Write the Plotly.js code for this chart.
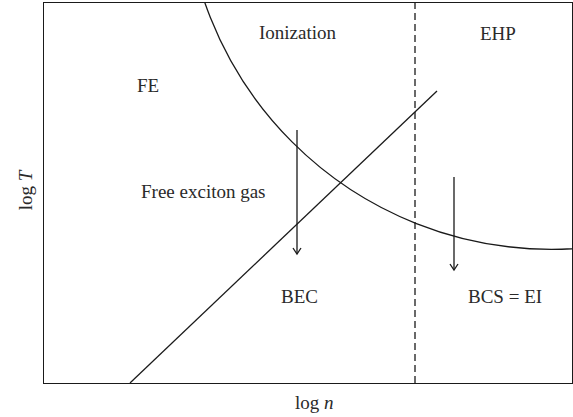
<!DOCTYPE html>
<html>
<head>
<meta charset="utf-8">
<script src="https://cdn.plot.ly/plotly-3.0.1.min.js"></script>
<style>html,body{margin:0;padding:0;background:#fff;}#chart{width:573px;height:417px;}</style>
</head>
<body>
<div id="chart"></div>
<script>
// Region labels and their positions (diagram units)
const regionLabels = ["Ionization", "EHP", "FE", "Free exciton gas", "BEC", "BCS = EI"];
const labelX = [254, 454, 104, 159, 255, 461];
const labelY = [351, 350, 298, 192, 87, 87];

// BEC transition line (log T vs log n)
const becLineX = [86, 393];
const becLineY = [0, 292];

// Mott density (dashed vertical boundary)
const mottX = 371;

// Ionization boundary (circular arc): centre and radius
const arcCentreX = 507.4;
const arcCentreY = 500.5;
const arcRadius = 366.8;

// Cooling arrows
const arrowX = [253, 410];
const arrowTop = [253, 206];
const arrowTip = [129, 113];

// Axis ranges and titles
const xRange = [0, 528];
const yRange = [0, 380];
const xTitle = "log <i>n</i>";
const yTitle = "log <i>T</i>";

const ink = "#1a1a1a";
const textColor = "#2a2a2a";
const font = "Liberation Serif, Times New Roman, serif";
const fontSize = 19;

// arrows: shafts and open V heads
const ax = [], ay = [];
const headW = 4, headH = 6;
for (let i = 0; i < arrowX.length; i++) {
  ax.push(arrowX[i], arrowX[i], null);
  ay.push(arrowTop[i], arrowTip[i], null);
  ax.push(arrowX[i] - headW, arrowX[i], arrowX[i] + headW, null);
  ay.push(arrowTip[i] + headH, arrowTip[i], arrowTip[i] + headH, null);
}

const traces = [
  {x: becLineX, y: becLineY, mode: "lines", line: {color: ink, width: 1.3}, hoverinfo: "skip"},
  {x: [mottX, mottX], y: yRange, mode: "lines", line: {color: ink, width: 1.3, dash: "7px,4px"}, hoverinfo: "skip"},
  {x: ax, y: ay, mode: "lines", line: {color: ink, width: 1.3}, hoverinfo: "skip", connectgaps: false}
];

const annotations = regionLabels.map((t, i) => ({
  text: t, x: labelX[i], y: labelY[i], xref: "x", yref: "y",
  showarrow: false, xanchor: "center", yanchor: "middle",
  font: {family: font, size: fontSize, color: textColor}
}));
annotations.push({
  text: xTitle, xref: "paper", yref: "paper", x: 0.513, y: -0.052,
  showarrow: false, xanchor: "center", yanchor: "middle",
  font: {family: font, size: fontSize, color: textColor}
});
annotations.push({
  text: yTitle, xref: "paper", yref: "paper", x: -0.036, y: 0.51, textangle: -90,
  showarrow: false, xanchor: "center", yanchor: "middle",
  font: {family: font, size: fontSize, color: textColor}
});

const layout = {
  width: 573, height: 417,
  margin: {l: 44, r: 1, t: 3, b: 34},
  paper_bgcolor: "#fff", plot_bgcolor: "#fff",
  showlegend: false,
  xaxis: {range: xRange, showgrid: false, zeroline: false, showticklabels: false, ticks: "",
          showline: true, mirror: true, linecolor: ink, linewidth: 1.2, fixedrange: true},
  yaxis: {range: yRange, showgrid: false, zeroline: false, showticklabels: false, ticks: "",
          showline: true, mirror: true, linecolor: ink, linewidth: 1.2, fixedrange: true},
  shapes: [{
    type: "circle", xref: "x", yref: "y",
    x0: arcCentreX - arcRadius, x1: arcCentreX + arcRadius,
    y0: arcCentreY - arcRadius, y1: arcCentreY + arcRadius,
    line: {color: ink, width: 1.3}, fillcolor: "rgba(0,0,0,0)"
  }],
  annotations: annotations
};

Plotly.newPlot("chart", traces, layout, {staticPlot: true, displayModeBar: false});
</script>
</body>
</html>
